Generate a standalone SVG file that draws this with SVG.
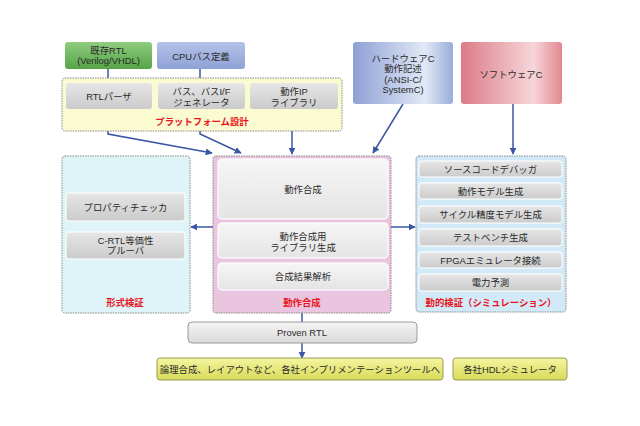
<svg xmlns="http://www.w3.org/2000/svg" width="640" height="426" viewBox="0 0 640 426">
<defs>
<linearGradient id="gGreen" x1="0" y1="0" x2="0" y2="1"><stop offset="0" stop-color="#8fcd7f"/><stop offset="1" stop-color="#56a448"/></linearGradient>
<linearGradient id="gCpu" x1="0" y1="0" x2="0" y2="1"><stop offset="0" stop-color="#b4c2e8"/><stop offset="1" stop-color="#8fa2d6"/></linearGradient>
<linearGradient id="gHw" x1="0" y1="0" x2="1" y2="0"><stop offset="0" stop-color="#8ea1d5"/><stop offset="0.72" stop-color="#e2e8f6"/><stop offset="1" stop-color="#9aadda"/></linearGradient>
<linearGradient id="gSw" x1="0" y1="0" x2="1" y2="0"><stop offset="0" stop-color="#dc7b86"/><stop offset="0.72" stop-color="#f6d6da"/><stop offset="1" stop-color="#e2878f"/></linearGradient>
<linearGradient id="gGray" x1="0" y1="0" x2="0" y2="1"><stop offset="0" stop-color="#e6e6e6"/><stop offset="1" stop-color="#cbcbcb"/></linearGradient>
<linearGradient id="gLight" x1="0" y1="0" x2="0" y2="1"><stop offset="0" stop-color="#f6f6f6"/><stop offset="1" stop-color="#e4e4e4"/></linearGradient>
<linearGradient id="gProven" x1="0" y1="0" x2="0" y2="1"><stop offset="0" stop-color="#f4f4f4"/><stop offset="1" stop-color="#dadada"/></linearGradient>
<linearGradient id="gYellow" x1="0" y1="0" x2="0" y2="1"><stop offset="0" stop-color="#f4f6a0"/><stop offset="1" stop-color="#d8da58"/></linearGradient>
<marker id="arr" viewBox="0 0 10 10" refX="9" refY="5" markerWidth="7" markerHeight="7" markerUnits="userSpaceOnUse" orient="auto"><path d="M0,0 L10,5 L0,10 z" fill="#3a57a6"/></marker>
<style>
text{font-family:"Liberation Sans","Noto Sans CJK JP",sans-serif;font-size:9.4px;fill:#2a2a2a;text-anchor:middle}
.red{fill:#e8141c;font-weight:bold}
.outer{stroke:#888888;stroke-width:1;stroke-dasharray:1.5 1}
.src{stroke:none}
.inner{fill:url(#gGray);stroke:#ffffff;stroke-opacity:0.7;stroke-width:1.5}
.innerL{fill:url(#gLight);stroke:#ffffff;stroke-opacity:0.8;stroke-width:1.5}
.conn{stroke:#3a57a6;stroke-width:1.5;fill:none}
</style>
</defs>
<rect width="640" height="426" fill="#ffffff"/>

<g id="connectors">
<line class="conn" x1="108" y1="69" x2="108" y2="78"/>
<line class="conn" x1="200" y1="69" x2="200" y2="78"/>
<polyline class="conn" points="108,131 108,134 212,153" marker-end="url(#arr)"/>
<polyline class="conn" points="200,131 200,134 241,153" marker-end="url(#arr)"/>
<line class="conn" x1="292" y1="131" x2="292" y2="154" marker-end="url(#arr)"/>
<line class="conn" x1="403" y1="104" x2="373" y2="153" marker-end="url(#arr)"/>
<line class="conn" x1="513" y1="104" x2="513" y2="154" marker-end="url(#arr)"/>
<line class="conn" x1="213" y1="227" x2="191" y2="227" marker-end="url(#arr)"/>
<line class="conn" x1="391" y1="227" x2="415" y2="227" marker-end="url(#arr)"/>
<line class="conn" x1="302" y1="313" x2="302" y2="322"/>
<line class="conn" x1="302" y1="343" x2="302" y2="358" marker-end="url(#arr)"/>
</g>

<g id="kizon">
<rect class="src" x="65" y="42" width="87" height="27" rx="3" fill="url(#gGreen)"/>
<text x="108.5" y="53.5">既存RTL</text>
<text x="108.5" y="64">(Verilog/VHDL)</text>
</g>
<g id="cpu">
<rect class="src" x="157" y="42" width="88" height="27" rx="3" fill="url(#gCpu)"/>
<text x="201" y="59.5">CPUバス定義</text>
</g>

<g id="platform">
<rect class="outer" x="62" y="78" width="280" height="53" rx="3" fill="#fbfbd2"/>
<rect x="66" y="83" width="86" height="26" rx="3" fill="url(#gGray)"/>
<text x="109" y="99.5">RTLパーザ</text>
<rect x="158" y="83" width="87" height="26" rx="3" fill="url(#gGray)"/>
<text x="201.5" y="95">バス、バスI/F</text>
<text x="201.5" y="105.5">ジェネレータ</text>
<rect x="250" y="83" width="88" height="26" rx="3" fill="url(#gGray)"/>
<text x="294" y="95">動作IP</text>
<text x="294" y="105.5">ライブラリ</text>
<text class="red" x="202" y="124.5">プラットフォーム設計</text>
</g>

<g id="hwc">
<rect class="src" x="353" y="42" width="100" height="62" rx="3" fill="url(#gHw)"/>
<text x="403" y="61.5">ハードウェアC</text>
<text x="403" y="72">動作記述</text>
<text x="403" y="82.5">(ANSI-C/</text>
<text x="403" y="93">SystemC)</text>
</g>
<g id="swc">
<rect class="src" x="461" y="42" width="101" height="62" rx="3" fill="url(#gSw)"/>
<text x="511" y="77.5">ソフトウェアC</text>
</g>

<g id="keishiki">
<rect class="outer" x="62" y="156" width="128" height="157" rx="3" fill="#dff4f8"/>
<rect class="inner" x="66" y="193" width="119" height="28" rx="3"/>
<text x="125.5" y="210.5">プロパティチェッカ</text>
<rect class="inner" x="66" y="232" width="119" height="27" rx="3"/>
<text x="125.5" y="243.5">C-RTL等価性</text>
<text x="125.5" y="253.5">プルーバ</text>
<text class="red" x="125" y="306">形式検証</text>
</g>

<g id="dousa">
<rect class="outer" x="213" y="156" width="178" height="157" rx="3" fill="#e9c5df"/>
<rect class="innerL" x="218" y="159" width="170" height="60" rx="4"/>
<text x="303" y="192.5">動作合成</text>
<rect class="innerL" x="218" y="223" width="170" height="35" rx="4"/>
<text x="303" y="239.5">動作合成用</text>
<text x="303" y="250.5">ライブラリ生成</text>
<rect class="innerL" x="218" y="263" width="170" height="27" rx="4"/>
<text x="303" y="280">合成結果解析</text>
<text class="red" x="302" y="306">動作合成</text>
</g>

<g id="douteki">
<rect class="outer" x="416" y="156" width="150" height="156" rx="3" fill="#d2eaf8"/>
<rect class="inner" x="419" y="161" width="143" height="16" rx="3"/>
<text x="490.5" y="172.5">ソースコードデバッガ</text>
<rect class="inner" x="419" y="183" width="143" height="16" rx="3"/>
<text x="490.5" y="194.5">動作モデル生成</text>
<rect class="inner" x="419" y="206" width="143" height="17" rx="3"/>
<text x="490.5" y="218">サイクル精度モデル生成</text>
<rect class="inner" x="419" y="229" width="143" height="17" rx="3"/>
<text x="490.5" y="241">テストベンチ生成</text>
<rect class="inner" x="419" y="252" width="143" height="16" rx="3"/>
<text x="490.5" y="263.5">FPGAエミュレータ接続</text>
<rect class="inner" x="419" y="274" width="143" height="17" rx="3"/>
<text x="490.5" y="286">電力予測</text>
<text class="red" x="491" y="306">動的検証（シミュレーション）</text>
</g>

<g id="proven">
<rect x="188" y="322" width="229" height="21" rx="4" fill="url(#gProven)" stroke="#9a9a9a" stroke-width="1"/>
<text x="302" y="335.5">Proven RTL</text>
</g>

<g id="impl">
<rect x="157" y="358" width="286" height="22" rx="3" fill="url(#gYellow)" stroke="#9a9a5a" stroke-width="1"/>
<text x="300" y="372.5">論理合成、レイアウトなど、各社インプリメンテーションツールへ</text>
</g>
<g id="hdlsim">
<rect x="453" y="358" width="114" height="22" rx="3" fill="url(#gYellow)" stroke="#9a9a5a" stroke-width="1"/>
<text x="510" y="372.5">各社HDLシミュレータ</text>
</g>
</svg>
